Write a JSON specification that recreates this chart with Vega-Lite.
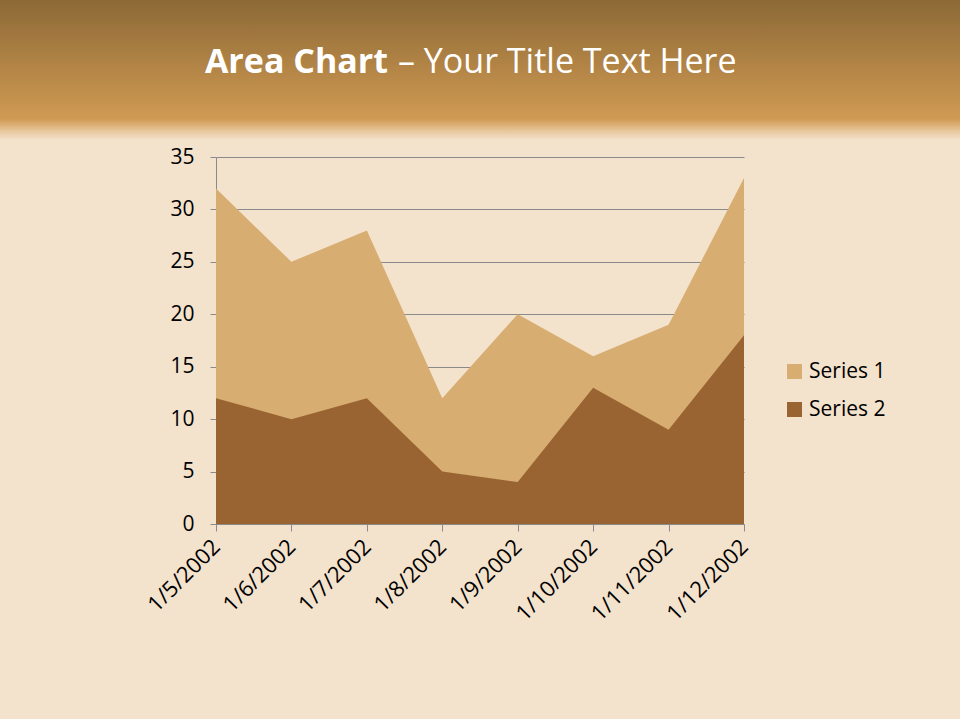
{
  "$schema": "https://vega.github.io/schema/vega-lite/v6.json",
  "background": "#F3E2CC",
  "padding": {"left": 0, "top": 0, "right": 0, "bottom": 94},
  "autosize": {"type": "pad"},
  "spacing": 17,
  "bounds": "flush",
  "center": true,
  "config": {
    "font": "Open Sans",
    "view": {"stroke": null}
  },
  "vconcat": [
    {
      "width": 960,
      "height": 140,
      "view": {
        "stroke": null,
        "fill": {
          "gradient": "linear",
          "x1": 0, "y1": 0, "x2": 0, "y2": 1,
          "stops": [
            {"offset": 0, "color": "#8C6936"},
            {"offset": 0.85, "color": "#D09A52"},
            {"offset": 0.93, "color": "#E6C497"},
            {"offset": 1, "color": "#F3E2CC"}
          ]
        }
      },
      "layer": [
        {
          "data": {"values": [{"t": "Area Chart"}]},
          "mark": {"type": "text", "align": "right", "baseline": "middle", "dx": -92, "dy": -7, "fontSize": 34, "fontWeight": "bold", "color": "#FFFFFF"},
          "encoding": {"text": {"field": "t", "type": "nominal"}}
        },
        {
          "data": {"values": [{"t": "– Your Title Text Here"}]},
          "mark": {"type": "text", "align": "left", "baseline": "middle", "dx": -82, "dy": -7, "fontSize": 34, "fontWeight": "normal", "color": "#FFFFFF"},
          "encoding": {"text": {"field": "t", "type": "nominal"}}
        }
      ]
    },
    {
      "width": 528,
      "height": 367,
      "data": {
        "values": [
          {"date": "1/5/2002", "series": "Series 1", "value": 32},
          {"date": "1/6/2002", "series": "Series 1", "value": 25},
          {"date": "1/7/2002", "series": "Series 1", "value": 28},
          {"date": "1/8/2002", "series": "Series 1", "value": 12},
          {"date": "1/9/2002", "series": "Series 1", "value": 20},
          {"date": "1/10/2002", "series": "Series 1", "value": 16},
          {"date": "1/11/2002", "series": "Series 1", "value": 19},
          {"date": "1/12/2002", "series": "Series 1", "value": 33},
          {"date": "1/5/2002", "series": "Series 2", "value": 12},
          {"date": "1/6/2002", "series": "Series 2", "value": 10},
          {"date": "1/7/2002", "series": "Series 2", "value": 12},
          {"date": "1/8/2002", "series": "Series 2", "value": 5},
          {"date": "1/9/2002", "series": "Series 2", "value": 4},
          {"date": "1/10/2002", "series": "Series 2", "value": 13},
          {"date": "1/11/2002", "series": "Series 2", "value": 9},
          {"date": "1/12/2002", "series": "Series 2", "value": 18}
        ]
      },
      "mark": {"type": "area", "opacity": 1},
      "encoding": {
        "x": {
          "field": "date",
          "type": "ordinal",
          "sort": null,
          "scale": {"type": "point", "padding": 0},
          "axis": {
            "title": null,
            "labelAngle": -45,
            "labelAlign": "right",
            "labelBaseline": "middle",
            "labelFontSize": 22,
            "labelColor": "#000000",
            "labelPadding": 12,
            "domainColor": "#8A8A8A",
            "tickColor": "#8A8A8A",
            "tickSize": 7,
            "grid": false
          }
        },
        "y": {
          "field": "value",
          "type": "quantitative",
          "stack": null,
          "scale": {"domain": [0, 35], "nice": false},
          "axis": {
            "title": null,
            "values": [0, 5, 10, 15, 20, 25, 30, 35],
            "labelFontSize": 21,
            "labelColor": "#000000",
            "labelPadding": 16,
            "domain": true,
            "domainColor": "#8A8A8A",
            "tickColor": "#8A8A8A",
            "tickSize": 6,
            "grid": true,
            "gridColor": "#8A8A8A",
            "gridWidth": 1
          }
        },
        "color": {
          "field": "series",
          "type": "nominal",
          "scale": {"domain": ["Series 1", "Series 2"], "range": ["#D8AD72", "#9A6432"]},
          "legend": {
            "title": null,
            "orient": "none",
            "legendX": 784,
            "legendY": 361,
            "symbolType": "square",
            "symbolSize": 225,
            "symbolStrokeWidth": 0,
            "labelFontSize": 21,
            "labelColor": "#000000",
            "rowPadding": 16,
            "labelOffset": 4
          }
        }
      }
    }
  ]
}
